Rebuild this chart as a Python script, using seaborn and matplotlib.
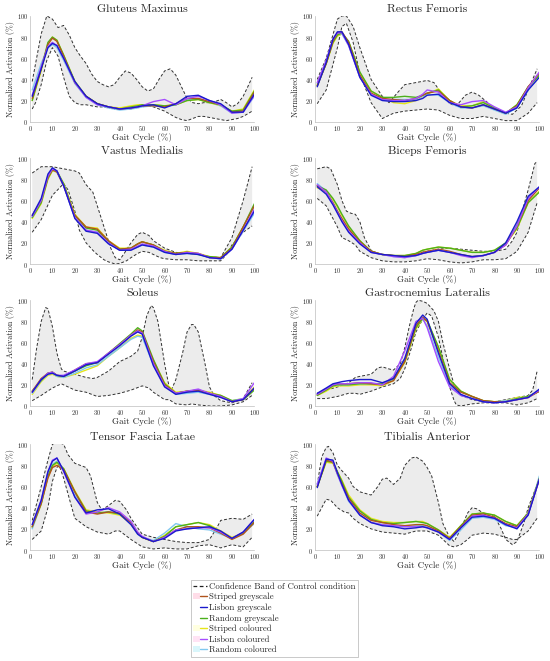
import numpy as np
import matplotlib
matplotlib.use('Agg')
import matplotlib.pyplot as plt
import seaborn as sns
from matplotlib.lines import Line2D
from matplotlib.patches import Patch
from matplotlib.legend_handler import HandlerTuple

sns.set_style('white')
plt.rcParams['font.family'] = ['cmr10', 'DejaVu Serif']
plt.rcParams['axes.formatter.use_mathtext'] = True
plt.rcParams['mathtext.fontset'] = 'cm'

# gait cycle samples for the condition curves
X = [1, 5, 8, 10, 12, 15, 20, 25, 30, 35, 40, 45, 48, 50, 55, 60, 65, 70, 75, 80, 85, 90, 95, 100]

conditions = ['Striped greyscale', 'Lisbon greyscale', 'Random greyscale',
              'Striped coloured', 'Lisbon coloured', 'Random coloured']
line_colors = ['#b0541c', '#1a1acc', '#4cb01c', '#e6e619', '#a64dff', '#80c8f0']
patch_colors = ['#ffdde8', '#ffffff', '#ffffff', '#ffffe0', '#ffe3f4', '#d9f6fb']

# Gluteus Maximus
GM_UP_X = [1, 2.5, 5, 7.5, 10, 12.5, 15, 17.5, 20, 22.5, 25, 27.5, 30, 32.5, 35, 37.5, 40, 42.5, 45, 47.5, 50,
           52.5, 55, 57.5, 60, 62.5, 65, 67.5, 70, 72.5, 75, 77.5, 80, 82.5, 85, 87.5, 90, 92.5, 95, 97.5, 99]
GM_UP = [38, 55, 83, 100, 97, 89, 91, 82, 70, 62, 55, 45, 38, 35, 33, 35, 42, 48, 46, 40, 33,
         29, 31, 40, 48, 50, 44, 33, 22, 18, 17, 18, 18, 19, 21, 18, 14, 17, 24, 35, 42]
GM_LO_X = GM_UP_X
GM_LO = [12, 18, 35, 58, 70, 62, 42, 24, 18, 16, 16, 15, 14, 14, 13, 12, 12, 12, 12, 13, 14,
         15, 14, 12, 10, 7, 4, 2, 1, 3, 5, 5, 4, 3, 2, 1, 2, 3, 5, 8, 10]
GM_SG = [22, 50, 73, 79, 76, 62, 37, 24, 17, 14, 12, 13, 14, 15, 15, 14, 17, 22, 22, 19, 16, 9, 10, 28]
GM_LG = [24, 50, 70, 74, 72, 60, 38, 24, 17, 14, 12, 13, 14, 15, 16, 13, 17, 24, 25, 20, 17, 9, 9, 26]
GM_RG = [20, 50, 75, 80, 77, 63, 38, 24, 17, 14, 12, 14, 15, 16, 16, 15, 16, 20, 21, 18, 16, 10, 11, 29]
GM_SC = [20, 48, 74, 80, 77, 63, 38, 24, 17, 14, 13, 15, 16, 16, 16, 15, 16, 20, 21, 18, 15, 10, 12, 30]
GM_LC = [25, 52, 71, 75, 72, 60, 37, 23, 16, 14, 12, 13, 14, 15, 19, 21, 16, 22, 24, 20, 16, 8, 9, 25]
GM_RC = [30, 55, 70, 73, 70, 58, 36, 23, 16, 13, 11, 12, 13, 14, 15, 14, 16, 21, 22, 19, 15, 8, 9, 24]

# Rectus Femoris
RF_UP_X = [1, 5, 10, 12, 14, 17, 20, 25, 30, 33, 37, 40, 45, 50, 53, 57, 60, 63, 67, 70, 73, 77, 80, 85, 88, 92, 95, 99]
RF_UP = [40, 60, 97, 100, 100, 90, 70, 40, 24, 18, 28, 35, 37, 39, 37, 25, 17, 15, 25, 28, 25, 18, 12, 8, 7, 15, 30, 50]
RF_LO_X = [1, 5, 10, 12, 14, 17, 20, 25, 30, 35, 40, 50, 55, 60, 65, 70, 75, 80, 85, 90, 95, 99]
RF_LO = [17, 30, 70, 90, 93, 75, 45, 18, 3, 8, 10, 12, 11, 6, 3, 3, 5, 3, 1, 1, 8, 18]
RF_SG = [34, 55, 76, 84, 85, 75, 44, 27, 22, 21, 20, 22, 25, 27, 29, 20, 14, 13, 16, 12, 8, 15, 33, 46]
RF_LG = [33, 56, 78, 85, 85, 73, 42, 25, 20, 19, 19, 20, 22, 25, 26, 18, 14, 13, 16, 12, 8, 13, 30, 42]
RF_RG = [34, 55, 75, 82, 84, 76, 47, 29, 23, 23, 24, 23, 25, 27, 30, 20, 14, 15, 18, 13, 8, 16, 33, 44]
RF_SC = [35, 55, 74, 81, 83, 75, 46, 29, 23, 18, 17, 20, 24, 26, 31, 20, 15, 15, 19, 13, 8, 16, 32, 44]
RF_LC = [37, 58, 78, 84, 84, 72, 42, 26, 21, 20, 20, 22, 26, 30, 28, 18, 16, 19, 20, 14, 9, 14, 32, 47]
RF_RC = [36, 57, 77, 83, 83, 72, 42, 26, 21, 21, 21, 21, 24, 26, 25, 18, 13, 13, 15, 11, 7, 13, 30, 43]

# Vastus Medialis
VM_UP_X = [1, 5, 10, 15, 20, 22, 25, 28, 30, 33, 36, 38, 40, 42, 45, 48, 50, 53, 55, 60, 65, 70, 75, 80, 85, 90, 95, 99]
VM_UP = [86, 92, 92, 90, 88, 86, 75, 68, 55, 35, 15, 6, 4, 10, 20, 28, 30, 27, 22, 15, 11, 10, 9, 7, 6, 25, 60, 92]
VM_LO_X = [1, 5, 10, 15, 17, 20, 22, 25, 28, 30, 33, 35, 38, 40, 43, 45, 48, 50, 53, 55, 58, 60, 65, 70, 75, 80,
           85, 88, 90, 93, 95, 99]
VM_LO = [30, 42, 65, 76, 70, 50, 32, 20, 13, 9, 4, 2, 0, 0.5, 3, 6, 10, 12, 11, 9, 6, 5, 4, 4, 3, 3,
         3, 10, 18, 25, 30, 36]
VM_SG = [46, 60, 82, 89, 87, 74, 46, 35, 33, 22, 14, 15, 19, 21, 18, 12, 10, 11, 10, 6, 6, 15, 35, 55]
VM_LG = [46, 62, 85, 91, 88, 74, 43, 31, 29, 19, 13, 13, 16, 18, 16, 11, 9, 10, 9, 6, 5, 14, 32, 50]
VM_RG = [44, 58, 81, 89, 88, 76, 46, 34, 32, 21, 14, 15, 19, 21, 18, 12, 10, 11, 9, 7, 6, 16, 35, 57]
VM_SC = [43, 57, 80, 88, 87, 76, 47, 35, 34, 22, 15, 15, 19, 21, 18, 13, 10, 12, 10, 7, 6, 16, 35, 55]
VM_LC = [45, 60, 83, 90, 88, 74, 44, 32, 30, 20, 13, 14, 17, 19, 17, 12, 9, 11, 10, 6, 5, 14, 32, 52]
VM_RC = [44, 59, 82, 89, 87, 74, 44, 32, 30, 20, 13, 14, 16, 18, 16, 11, 9, 10, 9, 6, 5, 14, 31, 48]

# Biceps Femoris
BF_UP_X = [1, 5, 7, 10, 12, 14, 16, 18, 20, 22, 25, 28, 30, 35, 40, 45, 50, 55, 60, 65, 70, 75, 80, 85, 88, 90,
           93, 95, 98, 99]
BF_UP = [90, 92, 90, 75, 60, 50, 48, 47, 40, 25, 13, 10, 9, 8, 7, 10, 12, 14, 15, 14, 13, 12, 12, 14, 22, 30,
         55, 70, 95, 97]
BF_LO_X = [1, 5, 10, 12, 15, 18, 20, 25, 30, 35, 40, 45, 50, 55, 60, 65, 70, 75, 80, 85, 88, 90, 95, 99]
BF_LO = [62, 55, 35, 25, 22, 18, 12, 6, 3, 2, 2, 3, 5, 4, 2, 1, 2, 4, 4, 5, 9, 12, 30, 58]
BF_SG = [74, 68, 58, 50, 43, 33, 21, 12, 9, 8, 7, 9, 11, 12, 14, 12, 9, 7, 8, 11, 18, 36, 60, 72]
BF_LG = [73, 66, 56, 48, 40, 30, 19, 11, 9, 8, 7, 8, 10, 11, 13, 11, 9, 7, 8, 11, 20, 40, 64, 73]
BF_RG = [74, 70, 62, 55, 47, 36, 22, 12, 9, 8, 8, 10, 13, 14, 16, 15, 13, 11, 11, 13, 20, 34, 58, 68]
BF_SC = [72, 69, 61, 54, 46, 35, 22, 12, 9, 8, 8, 10, 13, 14, 16, 15, 13, 11, 11, 13, 19, 33, 58, 69]
BF_LC = [75, 68, 57, 49, 41, 31, 20, 11, 9, 7, 6, 8, 10, 11, 13, 11, 8, 6, 8, 11, 18, 36, 62, 73]
BF_RC = [76, 69, 58, 50, 42, 32, 20, 11, 9, 7, 6, 8, 10, 11, 13, 11, 9, 7, 8, 11, 19, 38, 63, 72]

# Soleus
SO_UP_X = [1, 3, 5, 7, 8, 10, 12, 14, 15, 20, 25, 28, 30, 35, 40, 45, 48, 50, 52, 54, 55, 57, 60, 62, 63, 65,
           68, 70, 72, 73, 75, 78, 80, 82, 85, 90, 95, 99]
SO_UP = [25, 55, 80, 93, 92, 75, 50, 35, 33, 30, 27, 26, 27, 33, 42, 47, 52, 65, 85, 95, 93, 80, 40, 18, 15, 25,
         50, 70, 77, 77, 70, 40, 18, 10, 5, 3, 7, 22]
SO_LO_X = [1, 5, 10, 14, 15, 20, 25, 30, 35, 40, 45, 50, 53, 55, 60, 62, 65, 70, 72, 75, 80, 85, 90, 95, 99]
SO_LO = [5, 10, 17, 21, 20, 15, 13, 9, 10, 12, 15, 19, 17, 13, 6, 6, 2, 1, 2, 1, 0, 0, 1, 4, 10]
SO_SG = [14, 26, 31, 32, 29, 28, 34, 40, 41, 50, 58, 67, 72, 70, 42, 20, 12, 14, 15, 12, 9, 4, 6, 17]
SO_LG = [13, 25, 30, 31, 29, 28, 33, 39, 41, 49, 57, 66, 70, 68, 38, 18, 11, 13, 14, 11, 8, 4, 6, 17]
SO_RG = [14, 24, 31, 32, 29, 28, 33, 38, 41, 50, 59, 68, 74, 71, 44, 21, 12, 14, 15, 12, 10, 5, 6, 15]
SO_SC = [11, 23, 29, 30, 28, 27, 30, 34, 38, 47, 55, 64, 67, 66, 43, 22, 13, 14, 15, 13, 10, 5, 7, 18]
SO_LC = [13, 25, 31, 32, 29, 29, 34, 40, 42, 50, 58, 67, 71, 69, 40, 19, 12, 14, 16, 12, 9, 4, 7, 22]
SO_RC = [12, 24, 30, 31, 28, 27, 31, 36, 39, 47, 55, 63, 66, 65, 39, 19, 11, 12, 13, 11, 9, 5, 7, 17]

# Gastrocnemius Lateralis
GL_UP_X = [1, 5, 10, 15, 18, 20, 25, 28, 30, 33, 35, 38, 40, 42, 44, 45, 46, 48, 50, 53, 55, 57, 60, 62, 65,
           70, 75, 80, 85, 90, 95, 97, 99]
GL_UP = [12, 15, 18, 22, 27, 28, 30, 36, 37, 35, 34, 40, 55, 75, 92, 98, 100, 99, 97, 90, 80, 60, 35, 20, 10,
         6, 4, 4, 6, 8, 10, 15, 33]
GL_LO_X = [1, 5, 10, 15, 18, 20, 25, 30, 35, 38, 40, 43, 45, 48, 50, 52, 55, 58, 60, 62, 63, 65, 70, 75, 80,
           85, 90, 95, 99]
GL_LO = [7, 7, 9, 12, 12, 11, 14, 18, 21, 26, 35, 55, 70, 82, 88, 85, 65, 35, 18, 5, 1, 0, 2, 3, 3,
         3, 1, 3, 7]
GL_SG = [11, 16, 20, 21, 21, 21, 22, 21, 20, 24, 42, 76, 84, 80, 52, 22, 13, 9, 5, 4, 4, 6, 8, 14]
GL_LG = [12, 17, 21, 22, 23, 24, 25, 25, 22, 26, 45, 78, 86, 82, 50, 21, 11, 7, 4, 3, 4, 6, 8, 16]
GL_RG = [10, 15, 19, 20, 20, 20, 21, 21, 21, 26, 42, 74, 83, 81, 56, 25, 14, 9, 5, 4, 4, 7, 9, 14]
GL_SC = [10, 14, 18, 19, 19, 19, 20, 20, 19, 24, 41, 73, 82, 80, 55, 25, 14, 9, 5, 4, 5, 8, 9, 14]
GL_LC = [11, 16, 20, 21, 21, 21, 22, 22, 20, 28, 52, 80, 83, 74, 42, 18, 10, 7, 4, 3, 4, 6, 8, 15]
GL_RC = [11, 16, 19, 20, 20, 20, 21, 21, 20, 25, 44, 76, 82, 76, 46, 19, 10, 7, 4, 4, 5, 7, 9, 14]

# Tensor Fascia Latae
TF_UP_X = [1, 5, 8, 10, 12, 15, 17, 20, 25, 27, 30, 32, 35, 38, 40, 43, 45, 50, 55, 60, 65, 70, 75, 80, 83,
           85, 90, 95, 99]
TF_UP = [28, 60, 85, 100, 102, 100, 90, 82, 78, 70, 45, 38, 42, 47, 46, 38, 30, 15, 12, 10, 8, 7, 7, 10, 20,
         28, 30, 29, 34]
TF_LO_X = [1, 5, 8, 10, 12, 13, 15, 18, 20, 25, 30, 35, 38, 40, 45, 50, 55, 60, 65, 70, 75, 80, 85, 90, 95, 99]
TF_LO = [10, 18, 40, 65, 78, 80, 68, 45, 30, 22, 17, 15, 18, 18, 10, 3, 1, 2, 1, 1, 4, 5, 2, 5, 3, 12]
TF_SG = [22, 44, 68, 78, 80, 76, 55, 36, 34, 36, 35, 26, 16, 12, 8, 12, 19, 22, 22, 21, 16, 10, 15, 26]
TF_LG = [24, 47, 74, 84, 87, 75, 50, 35, 38, 39, 34, 24, 15, 12, 8, 11, 18, 20, 21, 22, 18, 11, 17, 29]
TF_RG = [22, 44, 70, 80, 83, 77, 55, 37, 35, 36, 34, 26, 16, 12, 8, 13, 22, 24, 26, 23, 17, 11, 16, 27]
TF_SC = [21, 43, 69, 79, 82, 77, 56, 38, 36, 35, 33, 25, 16, 12, 8, 14, 22, 24, 26, 24, 18, 12, 16, 26]
TF_LC = [24, 47, 74, 85, 87, 74, 50, 34, 36, 40, 36, 27, 17, 13, 8, 12, 19, 20, 21, 21, 17, 11, 17, 29]
TF_RC = [20, 44, 71, 81, 84, 75, 52, 36, 35, 36, 34, 25, 15, 12, 9, 16, 25, 22, 20, 19, 15, 11, 16, 25]

# Tibialis Anterior
TA_UP_X = [1, 3, 5, 6, 8, 10, 12, 15, 17, 20, 25, 28, 30, 32, 35, 38, 40, 43, 45, 48, 50, 52, 55, 57, 60, 62,
           65, 68, 70, 72, 75, 80, 83, 85, 88, 90, 93, 95, 99]
TA_UP = [62, 88, 97, 98, 92, 80, 75, 68, 60, 55, 52, 60, 67, 68, 62, 68, 80, 87, 88, 84, 78, 70, 45, 25, 12, 8,
         20, 35, 40, 39, 35, 32, 20, 10, 5, 8, 25, 40, 62]
TA_LO_X = [1, 3, 5, 7, 10, 13, 15, 17, 20, 25, 30, 35, 40, 45, 50, 55, 58, 60, 62, 65, 68, 70, 75, 80, 85, 88,
           90, 95, 99]
TA_LO = [32, 40, 48, 47, 40, 36, 35, 30, 25, 20, 17, 16, 15, 18, 18, 14, 8, 4, 3, 5, 10, 14, 16, 15, 12, 10,
         10, 18, 30]
TA_SG = [60, 85, 83, 72, 63, 49, 35, 28, 26, 24, 23, 24, 24, 23, 18, 11, 22, 33, 34, 31, 25, 22, 34, 67]
TA_LG = [59, 86, 85, 73, 62, 47, 33, 26, 23, 22, 20, 21, 22, 21, 17, 10, 21, 31, 32, 30, 24, 20, 33, 67]
TA_RG = [60, 84, 83, 74, 65, 50, 37, 29, 26, 25, 26, 27, 26, 25, 19, 11, 23, 34, 35, 33, 27, 23, 35, 68]
TA_SC = [60, 83, 82, 74, 66, 52, 38, 30, 27, 26, 26, 27, 27, 25, 19, 12, 23, 34, 35, 33, 27, 23, 35, 68]
TA_LC = [62, 87, 84, 72, 61, 47, 33, 26, 24, 23, 22, 22, 22, 21, 17, 10, 21, 32, 33, 30, 24, 21, 34, 67]
TA_RC = [63, 86, 83, 71, 61, 46, 33, 26, 24, 23, 22, 23, 23, 22, 17, 9, 19, 30, 31, 29, 23, 21, 33, 70]

panels = [
    ('Gluteus Maximus', GM_UP_X, GM_UP, GM_LO_X, GM_LO, [GM_SG, GM_LG, GM_RG, GM_SC, GM_LC, GM_RC]),
    ('Rectus Femoris', RF_UP_X, RF_UP, RF_LO_X, RF_LO, [RF_SG, RF_LG, RF_RG, RF_SC, RF_LC, RF_RC]),
    ('Vastus Medialis', VM_UP_X, VM_UP, VM_LO_X, VM_LO, [VM_SG, VM_LG, VM_RG, VM_SC, VM_LC, VM_RC]),
    ('Biceps Femoris', BF_UP_X, BF_UP, BF_LO_X, BF_LO, [BF_SG, BF_LG, BF_RG, BF_SC, BF_LC, BF_RC]),
    ('Soleus', SO_UP_X, SO_UP, SO_LO_X, SO_LO, [SO_SG, SO_LG, SO_RG, SO_SC, SO_LC, SO_RC]),
    ('Gastrocnemius Lateralis', GL_UP_X, GL_UP, GL_LO_X, GL_LO, [GL_SG, GL_LG, GL_RG, GL_SC, GL_LC, GL_RC]),
    ('Tensor Fascia Latae', TF_UP_X, TF_UP, TF_LO_X, TF_LO, [TF_SG, TF_LG, TF_RG, TF_SC, TF_LC, TF_RC]),
    ('Tibialis Anterior', TA_UP_X, TA_UP, TA_LO_X, TA_LO, [TA_SG, TA_LG, TA_RG, TA_SC, TA_LC, TA_RC]),
]

# drawing order of the conditions (blue ends up on top, as in the original)
draw_order = [3, 5, 2, 0, 4, 1]

fig = plt.figure(figsize=(5.5, 6.61), dpi=100)
col_left = [0.0545, 0.5727]
col_width = 0.408
row_bottom = [0.8159, 0.6006, 0.3858, 0.1679]
row_height = 0.160

for i, (title, ux, uy, lx, ly, curves) in enumerate(panels):
    r, c = divmod(i, 2)
    ax = fig.add_axes([col_left[c], row_bottom[r], col_width, row_height])

    # confidence band of control condition
    ax.fill(np.r_[ux, lx[::-1]], np.r_[uy, ly[::-1]], color='#ececec', lw=0, zorder=1)
    sns.lineplot(x=ux, y=uy, ax=ax, color='#303030', lw=0.7, linestyle=(0, (3, 2)), zorder=2)
    sns.lineplot(x=lx, y=ly, ax=ax, color='#303030', lw=0.7, linestyle=(0, (3, 2)), zorder=2)

    for k in draw_order:
        sns.lineplot(x=X, y=curves[k], ax=ax, color=line_colors[k], lw=1.0, zorder=3)

    ax.set_xlim(0, 100)
    ax.set_ylim(0, 100)
    ax.set_xticks(range(0, 101, 10))
    ax.set_yticks(range(0, 101, 20))
    ax.tick_params(labelsize=4.5, length=2, width=0.4, direction='in', pad=1.5, colors='#262626')
    ax.set_title(title, fontsize=8.5, pad=3)
    ax.set_xlabel('Gait Cycle (%)', fontsize=6.5, labelpad=0)
    ax.set_ylabel('Normalized Activation (%)', fontsize=5.8, labelpad=1)
    for side in ['top', 'right']:
        ax.spines[side].set_visible(False)
    for side in ['left', 'bottom']:
        ax.spines[side].set_color('#bdbdbd')
        ax.spines[side].set_linewidth(0.5)

# legend
handles = [Line2D([], [], color='#202020', lw=0.9, linestyle=(0, (3, 2)))]
for k in range(6):
    handles.append((Patch(facecolor=patch_colors[k], edgecolor='none'),
                    Line2D([], [], color=line_colors[k], lw=1.0)))
labels = ['Confidence Band of Control condition'] + conditions
leg = fig.legend(handles, labels, loc='lower center', bbox_to_anchor=(0.499, 0.006),
                 fontsize=6.3, frameon=True, fancybox=False, handlelength=1.6, handletextpad=0.2,
                 labelspacing=0.25, borderpad=0.3, borderaxespad=0,
                 handler_map={tuple: HandlerTuple(ndivide=None, pad=0)})
leg.get_frame().set_edgecolor('#a0a0a0')
leg.get_frame().set_linewidth(0.5)

fig.savefig('out.png', dpi=100)
